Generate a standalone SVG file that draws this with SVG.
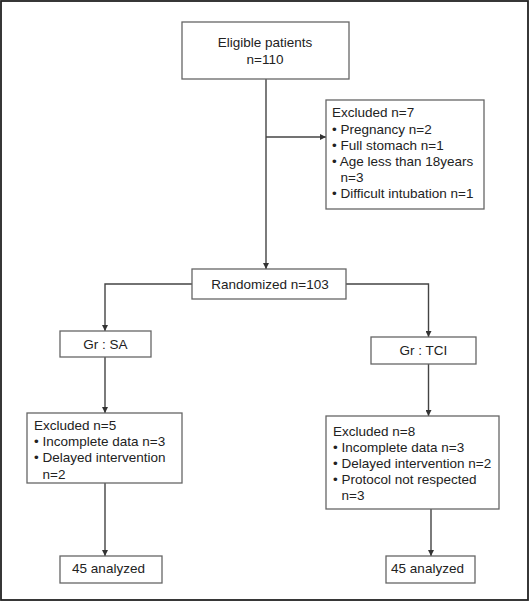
<svg xmlns="http://www.w3.org/2000/svg" width="530" height="602" viewBox="0 0 530 602">
<defs>
<marker id="arr" viewBox="0 0 6 6" refX="6" refY="3" markerWidth="6" markerHeight="6" markerUnits="userSpaceOnUse" orient="auto">
<path d="M0,0 L6,3 L0,6 Z" fill="#333"/>
</marker>
</defs>
<style>
.box{fill:#fff;stroke:#666;stroke-width:1.3}
.t{font-family:"Liberation Sans",Arial,sans-serif;font-size:13.5px;fill:#222}
.c{text-anchor:middle}
.ln{fill:none;stroke:#444;stroke-width:1.4}
</style>
<rect x="1" y="1" width="527" height="599" fill="#fff" stroke="#222" stroke-width="1.8"/>
<g id="connectors">
<line class="ln" x1="266" y1="79" x2="266" y2="269" marker-end="url(#arr)"/>
<line class="ln" x1="266" y1="137" x2="326" y2="137" marker-end="url(#arr)"/>
<polyline class="ln" points="192,284 105,284 105,331" marker-end="url(#arr)"/>
<polyline class="ln" points="346,284 428.5,284 428.5,337" marker-end="url(#arr)"/>
<line class="ln" x1="105" y1="357" x2="105" y2="413" marker-end="url(#arr)"/>
<line class="ln" x1="428.5" y1="364" x2="428.5" y2="416" marker-end="url(#arr)"/>
<line class="ln" x1="105" y1="483" x2="105" y2="556" marker-end="url(#arr)"/>
<line class="ln" x1="431" y1="509" x2="431" y2="556" marker-end="url(#arr)"/>
</g>
<g id="eligible">
<rect class="box" x="182" y="22" width="167" height="57"/>
<text class="t c" x="265" y="47">Eligible patients</text>
<text class="t c" x="265" y="64">n=110</text>
</g>
<g id="excluded1">
<rect class="box" x="326" y="100" width="158" height="109"/>
<text class="t" x="332" y="117">Excluded n=7</text>
<text class="t" x="332" y="134">• Pregnancy n=2</text>
<text class="t" x="332" y="150">• Full stomach n=1</text>
<text class="t" x="332" y="166">• Age less than 18years</text>
<text class="t" x="340.5" y="182">n=3</text>
<text class="t" x="332" y="198">• Difficult intubation n=1</text>
</g>
<g id="randomized">
<rect class="box" x="192" y="269" width="154" height="30"/>
<text class="t c" x="270" y="289">Randomized n=103</text>
</g>
<g id="grsa">
<rect class="box" x="60" y="331" width="91" height="26"/>
<text class="t c" x="105.5" y="349">Gr : SA</text>
</g>
<g id="grtci">
<rect class="box" x="371" y="337" width="105" height="27"/>
<text class="t c" x="423.5" y="355">Gr : TCI</text>
</g>
<g id="excluded2">
<rect class="box" x="27" y="413" width="155" height="70"/>
<text class="t" x="34" y="430">Excluded n=5</text>
<text class="t" x="34" y="446">• Incomplete data n=3</text>
<text class="t" x="34" y="462">• Delayed intervention</text>
<text class="t" x="42.5" y="479">n=2</text>
</g>
<g id="excluded3">
<rect class="box" x="326" y="416" width="173" height="93"/>
<text class="t" x="333" y="436">Excluded n=8</text>
<text class="t" x="333" y="452">• Incomplete data n=3</text>
<text class="t" x="333" y="468">• Delayed intervention n=2</text>
<text class="t" x="333" y="484">• Protocol not respected</text>
<text class="t" x="341.5" y="500">n=3</text>
</g>
<g id="analyzed1">
<rect class="box" x="60" y="556" width="102" height="27"/>
<text class="t c" x="108.5" y="573">45 analyzed</text>
</g>
<g id="analyzed2">
<rect class="box" x="386" y="556" width="89" height="27"/>
<text class="t c" x="427.5" y="573">45 analyzed</text>
</g>
</svg>
